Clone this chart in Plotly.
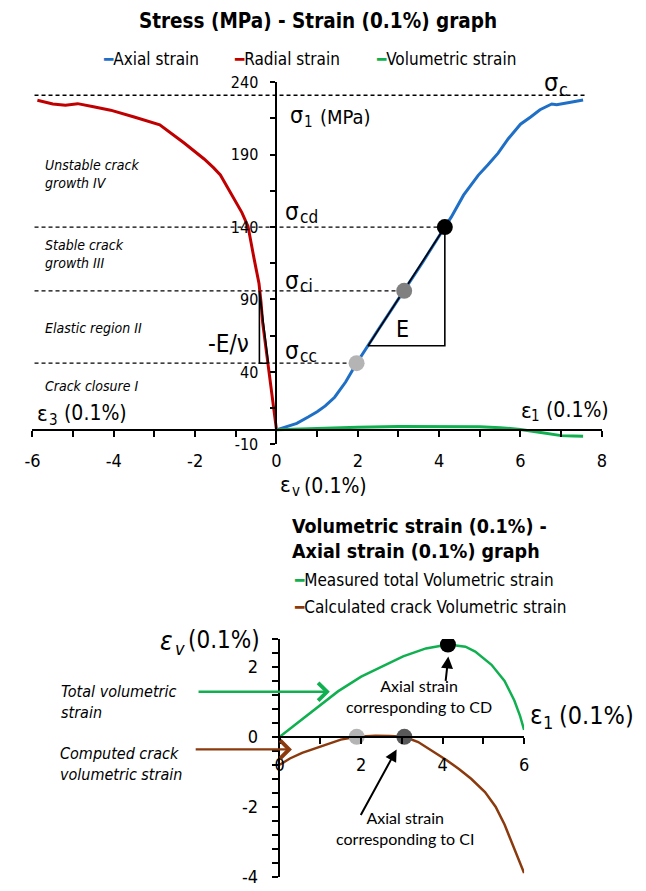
import plotly.graph_objects as go

# ---------------- Stress - strain test (strain in 0.1 %, stress in MPa) ----------------
axial_strain = [0, 0.25, 0.5, 0.79, 1.0, 1.2, 1.43, 1.7, 1.97, 2.5, 3.14, 3.6, 4.14,
                4.3, 4.6, 4.96, 5.2, 5.45, 5.7, 6.0, 6.25, 6.48, 6.77, 6.89, 7.2, 7.54]
axial_stress = [0, 2, 4.5, 9, 12.5, 16.5, 22.5, 33, 46, 69, 96, 116, 140,
                147, 162, 175.7, 183, 191, 201, 211, 216, 221, 225, 224.5, 226, 227.7]

radial_strain = [0, -0.1, -0.2, -0.34, -0.38, -0.43, -0.55, -0.7, -0.85, -0.99, -1.2,
                 -1.38, -1.55, -1.78, -2.27, -2.87, -3.5, -4.08, -4.5, -4.89, -5.19, -5.5, -5.88]
radial_stress = [0, 23, 46, 74, 88, 101, 118, 140.5, 150, 157, 167,
                 176, 181, 187, 198, 210.6, 216, 220.7, 223, 225.2, 224.1, 225, 227.5]

volumetric_strain = [0, 1, 2, 3, 4, 5, 5.5, 6.0, 6.5, 6.8, 7.0, 7.3, 7.54]
volumetric_stress = [0, 1.0, 1.8, 2.3, 2.5, 2.2, 1.5, 0.3, -1.8, -3.2, -4.0, -4.3, -4.5]

# characteristic stress thresholds
sigma_c = 231
sigma_cd = 140
sigma_ci = 96
sigma_cc = 46
threshold_strain = [1.97, 3.14, 4.14]          # cc, ci, cd on the axial curve
threshold_stress = [sigma_cc, sigma_ci, sigma_cd]
threshold_colors = ["#B4B4B4", "#808080", "#000000"]
dash_start = -5.95
sigma_c_end = 7.6

# Young's modulus triangle and -E/nu triangle
E_base_stress = 58
E_start_strain = 2.25
nu_vertical_strain = -0.42
nu_foot_strain = -0.2

# ---------------- Volumetric strain vs axial strain ----------------
total_axial = [0, 0.5, 1.0, 1.43, 2.0, 2.5, 3.03, 3.59, 4.13, 4.56, 4.8, 5.2, 5.52, 5.76, 5.9, 6.0]
total_vol = [0, 0.45, 0.9, 1.3, 1.72, 2.0, 2.3, 2.53, 2.64, 2.58, 2.44, 2.06, 1.6, 1.04, 0.6, 0.2]

crack_axial = [0, 0.25, 0.55, 0.79, 1.1, 1.5, 1.89, 2.35, 2.7, 3.06, 3.4, 3.83, 4.1, 4.4,
               4.7, 5.04, 5.3, 5.52, 5.75, 6.0]
crack_vol = [-0.8, -0.62, -0.46, -0.36, -0.25, -0.08, 0, 0.03, 0.02, 0, -0.15, -0.46, -0.67,
             -0.92, -1.2, -1.58, -2.0, -2.51, -3.15, -3.9]

marker_axial = [1.89, 3.06, 4.13]
marker_vol = [0, 0, 2.64]
marker_colors = ["#B4B4B4", "#595959", "#000000"]

# pointer arrows in the lower chart: (tail x, tail y, head x, head y)
arrow_total = (-2.03, 1.29, 1.23, 1.29)
arrow_crack = (-2.1, -0.36, 0.30, -0.36)
arrow_cd = (4.07, 1.56, 4.14, 2.3)
arrow_ci = (1.97, -2.28, 2.87, -0.36)

# ---------------- axis ticks ----------------
top_xticks = [-6, -4, -2, 0, 2, 4, 6, 8]
top_xlabels = ["-6", "-4", "-2", "0", "2", "4", "6", "8"]
top_xminor = [-5, -3, -1, 1, 3, 5, 7]
top_yticks = [-10, 40, 90, 140, 190, 240]
top_ylabels = ["-10", "40", "90", "140", "190", "240"]
top_yminor = [15, 65, 115, 165, 215]
bot_xticks = [0, 2, 4, 6]
bot_xlabels = ["0", "2", "4", "6"]
bot_xminor = [1, 3, 5]
bot_yticks = [-4, -2, 0, 2]
bot_ylabels = ["-4", "-2", "0", "2"]
bot_yminor = [-3.6, -3.2, -2.8, -2.4, -1.6, -1.2, -0.8, -0.4,
              0.4, 0.8, 1.2, 1.6, 2.4, 2.8]

# ---------------- styling ----------------
FONT = "DejaVu Sans Condensed, DejaVu Sans, sans-serif"
NOTE_FONT = "Lato, Open Sans, sans-serif"
BLUE = "#1F6FC6"
RED = "#C00000"
GREEN = "#10B050"
BROWN = "#8B3A0E"
W, H = 646, 891


def px_x(p):
    return p / W


def px_y(p):
    return 1 - p / H


fig = go.Figure()

# dashed threshold lines (top chart)
fig.add_trace(go.Scatter(x=[dash_start, sigma_c_end], y=[sigma_c, sigma_c], mode="lines",
                         line=dict(color="black", width=1.3, dash="4px,3px"),
                         xaxis="x", yaxis="y", hoverinfo="skip"))
for sx, sy in zip(threshold_strain, threshold_stress):
    fig.add_trace(go.Scatter(x=[dash_start, sx], y=[sy, sy], mode="lines",
                             line=dict(color="black", width=1.3, dash="4px,3px"),
                             xaxis="x", yaxis="y", hoverinfo="skip"))

# main curves
fig.add_trace(go.Scatter(x=radial_strain, y=radial_stress, mode="lines", name="Radial strain",
                         line=dict(color=RED, width=3), xaxis="x", yaxis="y"))
fig.add_trace(go.Scatter(x=axial_strain, y=axial_stress, mode="lines", name="Axial strain",
                         line=dict(color=BLUE, width=3), xaxis="x", yaxis="y"))
fig.add_trace(go.Scatter(x=volumetric_strain, y=volumetric_stress, mode="lines",
                         name="Volumetric strain",
                         line=dict(color=GREEN, width=3), xaxis="x", yaxis="y"))

# E construction: tangent + right-angle legs
fig.add_trace(go.Scatter(
    x=[E_start_strain, threshold_strain[2], threshold_strain[2], E_start_strain],
    y=[E_base_stress, sigma_cd, E_base_stress, E_base_stress],
    mode="lines", line=dict(color="black", width=1.6), xaxis="x", yaxis="y", hoverinfo="skip"))
# -E/nu construction
fig.add_trace(go.Scatter(
    x=[nu_foot_strain, nu_vertical_strain, nu_vertical_strain, nu_foot_strain],
    y=[sigma_cc, sigma_ci, sigma_cc, sigma_cc],
    mode="lines", line=dict(color="black", width=1.6), xaxis="x", yaxis="y", hoverinfo="skip"))

# threshold markers
fig.add_trace(go.Scatter(x=threshold_strain, y=threshold_stress, mode="markers",
                         marker=dict(size=16, color=threshold_colors, line=dict(width=0)),
                         xaxis="x", yaxis="y", hoverinfo="skip"))

# bottom chart curves
fig.add_trace(go.Scatter(x=total_axial, y=total_vol, mode="lines",
                         name="Measured total Volumetric strain",
                         line=dict(color=GREEN, width=2.5), xaxis="x2", yaxis="y2"))
fig.add_trace(go.Scatter(x=crack_axial, y=crack_vol, mode="lines",
                         name="Calculated crack Volumetric strain",
                         line=dict(color=BROWN, width=2.5), xaxis="x2", yaxis="y2"))
fig.add_trace(go.Scatter(x=marker_axial, y=marker_vol, mode="markers",
                         marker=dict(size=16, color=marker_colors, line=dict(width=0)),
                         xaxis="x2", yaxis="y2", hoverinfo="skip"))

annotations = []


def note(text, x, y, ref="", size=14, xanchor="left", font=FONT, align="left",
         italic=False):
    annotations.append(dict(text=text, x=x, y=y, xref="x" + ref, yref="y" + ref,
                            showarrow=False, xanchor=xanchor, yanchor="middle", align=align,
                            font=dict(family=font, size=size, color="black",
                                      style="italic" if italic else "normal")))


def piece(text, x, y, size, xanchor="left", italic=False, bold=False, align="left"):
    # text placed at a page position given in pixels from the top-left corner
    annotations.append(dict(text=text, x=px_x(x), y=px_y(y), xref="paper", yref="paper",
                            showarrow=False, xanchor=xanchor, yanchor="middle", align=align,
                            font=dict(family=FONT, size=size, color="black",
                                      style="italic" if italic else "normal",
                                      weight="bold" if bold else "normal")))


# legends
def legend_item(color, label):
    return f"<span style='color:{color}'>━</span>{label}"


piece(legend_item(BLUE, "Axial strain"), 95, 51, 17)
piece(legend_item(RED, "Radial strain"), 229, 51, 17)
piece(legend_item(GREEN, "Volumetric strain"), 374, 51, 17)
piece(legend_item(GREEN, "Measured total Volumetric strain"), 290, 583, 17)
piece(legend_item(BROWN, "Calculated crack Volumetric strain"), 290, 611, 17)

# bottom chart title
piece("Volumetric strain (0.1%) -<br>Axial strain (0.1%) graph", 420, 542, 19.5,
      xanchor="center", bold=True)

# symbols with subscripts (symbol, subscript and remainder set separately)
piece("σ", 545, 75, 25)
piece("c", 560, 82, 18)
piece("σ", 286, 108, 23)
piece("1", 300, 115, 15)
piece("(MPa)", 316, 110, 20)
piece("σ", 281, 207.5, 24)
piece("cd", 295.5, 213, 17)
piece("σ", 281, 277.5, 24)
piece("ci", 295.5, 283, 17)
piece("σ", 281, 349, 24)
piece("cc", 295.5, 355, 17)
piece("ε", 28, 413, 22)
piece("3", 40, 420, 15)
piece("(0.1%)", 55, 413, 21)
piece("ε", 521, 410, 22)
piece("1", 532, 416, 15)
piece("(0.1%)", 547, 410, 21)
piece("ε", 276, 486, 22)
piece("v", 288, 492, 15)
piece("(0.1%)", 300, 487, 21)
piece("ε", 153, 646, 26, italic=True)
piece("v", 168, 653, 18, italic=True)
piece("(0.1%)", 182, 645, 24)
piece("ε", 531, 721.7, 26)
piece("1", 543.5, 729, 18)
piece("(0.1%)", 560, 721.7, 25)

# other top chart labels
note("E", 3.11, 69.6, size=23, xanchor="center")
note("-E/ν", -1.18, 59, size=24, xanchor="center")
note("Unstable crack<br>growth IV", -5.73, 176.7, size=14, italic=True)
note("Stable crack<br>growth III", -5.73, 121.3, size=14, italic=True)
note("Elastic region II", -5.73, 70.3, size=14, italic=True)
note("Crack closure I", -5.73, 30.4, size=14, italic=True)

# other bottom chart labels
piece("Total volumetric<br>strain", 52, 708, 16, italic=True)
piece("Computed crack<br>volumetric strain", 51, 771, 16, italic=True)
note("Axial strain<br>corresponding to CD", 3.43, 1.17, ref="2", size=16,
     xanchor="center", font=NOTE_FONT, align="center")
note("Axial strain<br>corresponding to CI", 3.07, -2.61, ref="2", size=16,
     xanchor="center", font=NOTE_FONT, align="center")


def arrow(spec, color, width, head, head_size):
    x0, y0, x1, y1 = spec
    annotations.append(dict(x=x1, y=y1, ax=x0, ay=y0, xref="x2", yref="y2",
                            axref="x2", ayref="y2", text="", showarrow=True,
                            arrowhead=head, arrowsize=head_size, arrowwidth=width,
                            arrowcolor=color))


arrow(arrow_total, GREEN, 2.3, 4, 1.5)
arrow(arrow_crack, BROWN, 2.3, 4, 1.5)
arrow(arrow_cd, "black", 2, 2, 1.2)
arrow(arrow_ci, "black", 2, 2, 1.2)


def axis_style(ticklen, minor_vals, size, standoff):
    return dict(showline=True, linecolor="black", linewidth=2, ticks="outside",
                tickcolor="black", tickwidth=1.5, ticklen=ticklen, showgrid=False,
                zeroline=False, tickmode="array", ticklabelstandoff=standoff,
                tickfont=dict(family=FONT, size=size, color="black"),
                minor=dict(tickvals=minor_vals, ticks="outside", ticklen=ticklen,
                           tickwidth=1.5, tickcolor="black", showgrid=False))


fig.update_layout(
    width=W, height=H, margin=dict(l=0, r=0, t=0, b=0),
    paper_bgcolor="white", plot_bgcolor="rgba(0,0,0,0)", showlegend=False,
    title=dict(text="<b>Stress (MPa) - Strain (0.1%) graph</b>", x=px_x(318), y=px_y(21),
               xanchor="center", yanchor="middle",
               font=dict(family=FONT, size=20.5, color="black")),
    xaxis=dict(axis_style(6, top_xminor, 18, 9), domain=[px_x(25), px_x(606)], range=[-6, 8],
               anchor="free", position=px_y(430), tickvals=top_xticks, ticktext=top_xlabels),
    yaxis=dict(axis_style(5, top_yminor, 16, 9), domain=[px_y(444.8), px_y(74.8)],
               range=[-10, 240], anchor="free", position=px_x(274),
               tickvals=top_yticks, ticktext=top_ylabels),
    xaxis2=dict(axis_style(6, bot_xminor, 18, 6), domain=[px_x(277.3), px_x(526.7)],
                range=[0, 6], anchor="free", position=px_y(743.7),
                tickvals=bot_xticks, ticktext=bot_xlabels),
    yaxis2=dict(axis_style(6, bot_yminor, 18, 10), domain=[px_y(886.5), px_y(643.7)],
                range=[-4, 2.8], anchor="x2", tickvals=bot_yticks, ticktext=bot_ylabels),
    annotations=annotations,
)

fig.write_html("out.html")
